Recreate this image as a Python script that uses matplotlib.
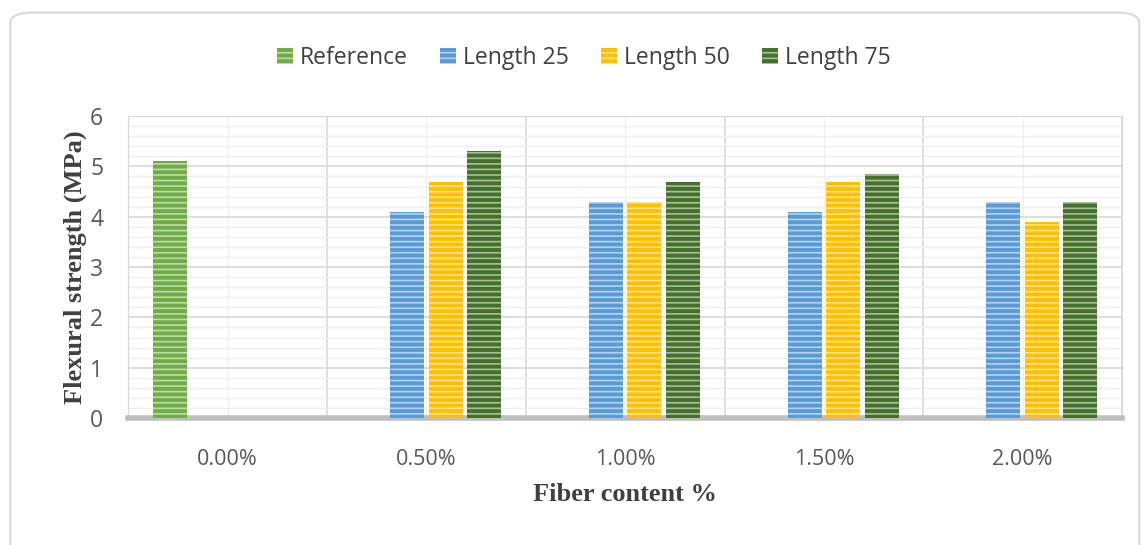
import numpy as np
import matplotlib.pyplot as plt
from matplotlib.patches import FancyBboxPatch
from matplotlib.ticker import MultipleLocator

categories = ["0.00%", "0.50%", "1.00%", "1.50%", "2.00%"]
series_names = ["Reference", "Length 25", "Length 50", "Length 75"]
reference = [5.1, 0, 0, 0, 0]
length_25 = [0, 4.1, 4.3, 4.1, 4.3]
length_50 = [0, 4.7, 4.3, 4.7, 3.9]
length_75 = [0, 5.3, 4.7, 4.85, 4.3]
colors = ["#70AD47", "#5B9BD5", "#FFC000", "#44702A"]

plt.rcParams["hatch.color"] = (1, 1, 1, 0.55)
plt.rcParams["hatch.linewidth"] = 1.2

fig = plt.figure(figsize=(11.45, 5.45), dpi=100)
frame = FancyBboxPatch((0.009, -0.05), 0.986, 1.027,
                       boxstyle="round,pad=0,rounding_size=0.02",
                       transform=fig.transFigure, facecolor="white",
                       edgecolor="#d9d9d9", linewidth=1.5, zorder=-10)
fig.patches.append(frame)
ax = fig.add_axes([0.112, 0.233, 0.868, 0.554])
ax.set_zorder(5)

x = np.arange(len(categories))
slot = 0.1935
width = 0.171
all_series = [reference, length_25, length_50, length_75]
for i, (name, vals, c) in enumerate(zip(series_names, all_series, colors)):
    ax.bar(x + (i - 1.5) * slot, vals, width, color=c, hatch="---",
           label=name, zorder=3)

ax.set_xlim(-0.5, len(categories) - 0.5)
ax.set_ylim(0, 6)
ax.yaxis.set_major_locator(MultipleLocator(1))
ax.yaxis.set_minor_locator(MultipleLocator(0.2))
ax.set_xticks(x)
ax.set_xticks(np.arange(-0.5, len(categories), 1), minor=True)
ax.set_xticklabels(categories)
ax.grid(which="major", axis="y", color="#d9d9d9", linewidth=1.2, zorder=0)
ax.grid(which="minor", axis="y", color="#efefef", linewidth=1.0, zorder=0)
ax.grid(which="major", axis="x", color="#f0f0f0", linewidth=1.0, zorder=0)
ax.grid(which="minor", axis="x", color="#d9d9d9", linewidth=1.2, zorder=0)
ax.tick_params(which="both", length=0)
ax.tick_params(axis="x", labelsize=15.5, labelcolor="#595959", pad=22)
ax.tick_params(axis="y", labelsize=16.5, labelcolor="#595959", pad=18)
for t in ax.get_xticklabels() + ax.get_yticklabels():
    t.set_fontfamily("Open Sans")
for s in ["top", "right", "left"]:
    ax.spines[s].set_color("#d9d9d9")
ax.spines["bottom"].set_color("#bfbfbf")
ax.spines["bottom"].set_linewidth(4)

ax.set_xlabel("Fiber content %", fontfamily="Liberation Serif", fontweight="bold",
              fontsize=19, color="#404040", labelpad=10)
ax.set_ylabel("Flexural strength (MPa)", fontfamily="Liberation Serif",
              fontweight="bold", fontsize=19, color="#404040", labelpad=2)

fig.legend(loc="center", bbox_to_anchor=(0.51, 0.893), ncol=4, frameon=False,
           prop={"family": "Open Sans", "size": 16.5}, handlelength=0.7,
           handleheight=0.7, handletextpad=0.3, columnspacing=1.4,
           labelcolor="#404040")

fig.savefig("out.png", dpi=100)
